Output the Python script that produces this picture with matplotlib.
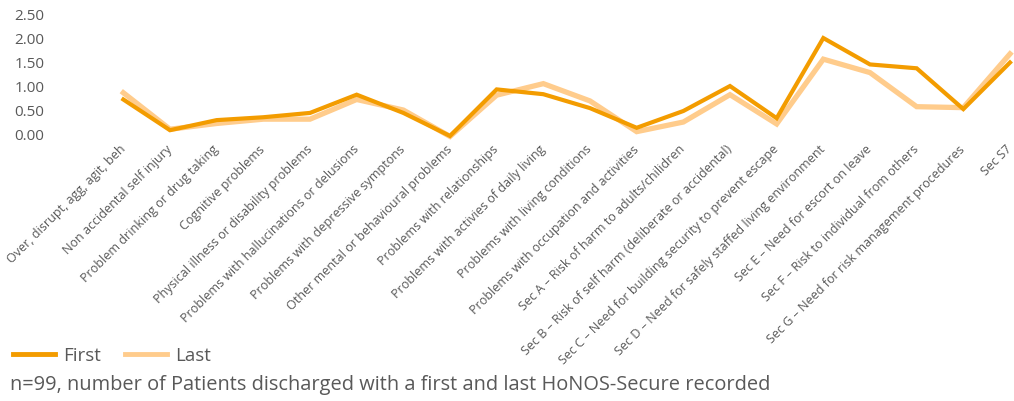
import matplotlib
matplotlib.use("Agg")
import matplotlib.pyplot as plt
from matplotlib.lines import Line2D

plt.rcParams['font.family'] = ['Open Sans', 'DejaVu Sans']

categories = ["Over, disrupt, agg, agit, beh", "Non accidental self injury",
              "Problem drinking or drug taking", "Cognitive problems",
              "Physical illness or disability problems",
              "Problems with hallucinations or delusions",
              "Problems with depressive symptons",
              "Other mental or behavioural problems",
              "Problems with relationships",
              "Problems with activies of daily living",
              "Problems with living conditions",
              "Problems with occupation and activities",
              "Sec A \u2013 Risk of harm to adults/chilidren",
              "Sec B \u2013 Risk of self harm (deliberate or accidental)",
              "Sec C \u2013 Need for building security to prevent escape",
              "Sec D \u2013 Need for safely staffed living environment",
              "Sec E \u2013 Need for escort on leave",
              "Sec F \u2013 Risk to individual from others",
              "Sec G \u2013 Need for risk management procedures",
              "Sec S7"]
first = [0.74, 0.10, 0.31, 0.37, 0.46, 0.84, 0.46, -0.02, 0.95, 0.85,
         0.56, 0.15, 0.50, 1.02, 0.35, 2.02, 1.47, 1.39, 0.54, 1.51]
last = [0.88, 0.12, 0.24, 0.33, 0.33, 0.74, 0.52, -0.03, 0.83, 1.07,
        0.71, 0.07, 0.27, 0.84, 0.23, 1.58, 1.30, 0.59, 0.57, 1.69]
yticks = [0.0, 0.5, 1.0, 1.5, 2.0, 2.5]

dark = "#F39C00"
light = "#FFCC8C"
grey = "#595959"

fig = plt.figure(figsize=(10.14, 4.01), dpi=100)
W, H = 1014, 401
ax = fig.add_axes([100 / W, (H - 135) / H, (W - 100) / W, 120 / H])
x = list(range(len(categories)))
ax.plot(x, first, color=dark, lw=3.0, clip_on=False, solid_joinstyle='miter', zorder=3)
ax.plot(x, last, color=light, lw=3.8, clip_on=False, solid_joinstyle='miter', zorder=2)
ax.set_xlim(-0.5, 19 + 4 / 46.6)
ax.set_ylim(0, 2.5)
ax.set_yticks(yticks)
ax.set_yticklabels(["%.2f" % v for v in yticks])
ax.set_xticks(x)
ax.set_xticklabels(categories, rotation=45, ha='right', va='center',
                   rotation_mode='anchor', fontsize=9, color=grey)
ax.tick_params(axis='x', length=0, pad=9)
ax.tick_params(axis='y', length=0, pad=40, labelsize=11, labelcolor=grey)
for s in ax.spines.values():
    s.set_visible(False)

handles = [Line2D([], [], color=dark, lw=3.5), Line2D([], [], color=light, lw=3.5)]
fig.legend(handles, ["First", "Last"], loc='center left',
           bbox_to_anchor=(-4 / W, 1 - 356 / H), ncol=2, frameon=False,
           fontsize=13.5, labelcolor=grey, handlelength=2.25,
           handletextpad=0.45, columnspacing=1.25)
fig.text(10 / W, 1 - 385 / H,
         "n=99, number of Patients discharged with a first and last HoNOS-Secure recorded",
         fontsize=14.4, color=grey, va='center', ha='left')

fig.savefig("out.png", dpi=100)
